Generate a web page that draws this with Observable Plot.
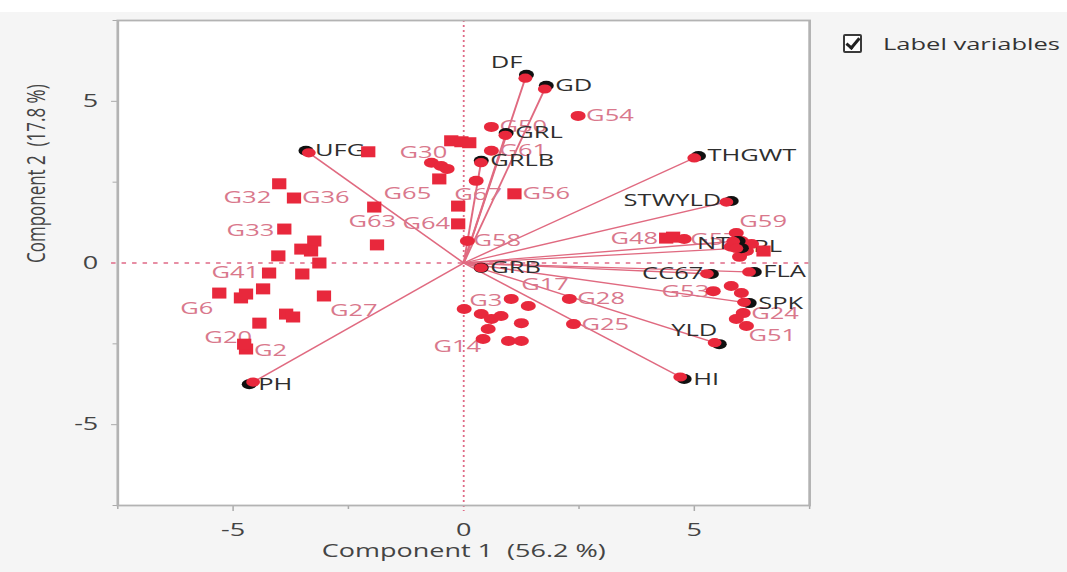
<!DOCTYPE html>
<html>
<head>
<meta charset="utf-8">
<script src="https://cdn.jsdelivr.net/npm/d3@7"></script>
<script src="https://cdn.jsdelivr.net/npm/@observablehq/plot@0.6"></script>
<style>
  html, body { margin: 0; padding: 0; background: #f5f5f5; }
  #wrap { position: relative; width: 1067px; height: 572px; overflow: hidden; font-family: "Open Sans", sans-serif; background: linear-gradient(#fff 0, #fff 12px, #f5f5f5 12px); }
  #chart { position: absolute; left: 0; top: 0; width: 711px; height: 572px; transform: scaleX(1.5007); transform-origin: 0 0; }
  #chart svg { display: block; }
  #legend { position: absolute; left: 843px; top: 32px; display: flex; align-items: center; }
  #legend .box { width: 15px; height: 15px; border: 2px solid #3a3a3a; border-radius: 2px; position: relative; margin-right: 21px; background: #fff; }
  #legend .box::after { content: ""; position: absolute; left: 4px; top: -1px; width: 5px; height: 11px; border-right: 3px solid #222; border-bottom: 3px solid #222; transform: rotate(40deg); }
  #legend .lbl { display: inline-block; font-size: 17px; color: #333; transform: scaleX(1.5); transform-origin: left center; white-space: nowrap; }
</style>
</head>
<body>
<div id="wrap">
  <div id="chart"></div>
  <div id="legend"><span class="box"></span><span class="lbl">Label variables</span></div>
</div>
<script>
// ---- Data: variable loadings (arrows) ----
const varNames = ["DF","GD","GRL","GRLB","UFG","PH","THGWT","STWYLD","NT","PL","FLA","CC67","SPK","YLD","HI","GRB"];
const varX = [1.36, 1.79, 0.92, 0.38, -3.42, -4.65, 5.09, 5.80, 5.95, 6.02, 6.30, 5.37, 6.19, 5.54, 4.78, 0.38];
const varY = [5.82, 5.48, 4.02, 3.16, 3.47, -3.75, 3.31, 1.92, 0.68, 0.46, -0.28, -0.34, -1.24, -2.51, -3.59, -0.15];

// ---- Data: genotype scores ----
const obsNames = ["G39","G32","G36","G63","G62","G65","G33","G34","G35","G37","G38","G40","G41","G42","G6","G7","G8","G9","G27","G21","G22","G23","G2","G20",
  "G30","G31","G29","G43","G44","G45","G46","G64","G67","G50","G61","G56","G54","G58",
  "G17","G3","G4","G5","G10","G11","G12","G13","G14","G15","G16","G28","G25",
  "G48","G49","G57","G59","G60","G47","G52","G55","G66","G1","G53","G18","G19","G24","G26","G51"];
const obsX = [-2.07,-4.00,-3.68,-1.94,-1.88,-0.53,-3.89,-3.24,-3.31,-3.13,-3.52,-4.02,-4.22,-3.50,-5.30,-4.83,-4.72,-4.35,-3.03,-3.85,-3.70,-4.43,-4.72,-4.76,
  -0.27,-0.05,0.12,-0.70,-0.49,-0.36,-0.12,-0.12,0.27,0.60,0.60,1.10,2.48,0.08,
  1.03,0.01,1.40,0.38,0.60,0.81,1.25,0.53,0.42,0.97,1.25,2.29,2.38,
  4.39,4.54,4.78,5.91,6.02,6.13,5.80,5.98,6.50,6.24,5.41,5.80,6.02,6.06,5.91,6.13];
const obsY = [3.44,2.45,2.01,1.73,0.56,2.60,1.05,0.68,0.37,0.00,0.43,0.22,-0.31,-0.34,-0.93,-1.08,-0.96,-0.80,-1.02,-1.58,-1.67,-1.86,-2.66,-2.51,
  3.78,3.75,3.72,3.10,3.00,2.91,1.76,1.21,2.54,4.21,3.47,2.14,4.55,0.68,
  -1.11,-1.42,-1.33,-1.58,-1.73,-1.64,-1.86,-2.04,-2.35,-2.41,-2.41,-1.11,-1.89,
  0.77,0.80,0.74,0.93,0.68,0.37,0.50,0.19,0.37,0.59,-0.87,-0.71,-0.93,-1.55,-1.73,-1.95];
const obsMarker = ["square","square","square","square","square","square","square","square","square","square","square","square","square","square","square","square","square","square","square","square","square","square","square","square",
  "square","square","square","circle","circle","circle","square","square","circle","circle","circle","square","circle","circle",
  "circle","circle","circle","circle","circle","circle","circle","circle","circle","circle","circle","circle","circle",
  "square","square","circle","circle","circle","circle","circle","circle","square","circle","circle","circle","circle","circle","circle","circle"];

// Axis labels / ticks
const xTitle = "Component 1  (56.2 %)";
const yTitle = "Component 2  (17.8 %)";
const majorTicks = [-5, 0, 5];
const minorTicks = [-7.5, -2.5, 2.5, 7.5];

// ---- label placement (style; offsets in on-screen pixels) ----
const obsLabelPlace = {
  G32:["end",-8,14], G36:["start",8,0], G63:["middle",-2,14], G65:["end",-8,15], G33:["end",-10,2],
  G41:["end",-10,0], G6:["end",-6,15], G27:["start",6,15], G20:["middle",-16,-7], G2:["start",8,2],
  G30:["end",-4,12], G64:["end",-8,0], G67:["middle",2,14], G50:["start",8,0], G61:["start",8,0],
  G56:["start",8,0], G54:["start",8,0], G58:["start",6,0], G17:["start",10,-14], G3:["start",5,-8],
  G14:["end",-2,8], G28:["start",8,0], G25:["start",8,0], G48:["end",-8,0], G57:["start",6,0],
  G59:["start",3,-11], G53:["end",-4,0], G24:["start",8,0], G51:["start",2,10]
};
const varLabelPlace = {
  DF:["end",-4,-12], GD:["start",9,0], GRL:["start",9,0], GRLB:["start",9,0], UFG:["start",9,0],
  PH:["start",9,0], THGWT:["start",9,0], STWYLD:["end",-10,0], NT:["end",-8,3], PL:["start",12,-2],
  FLA:["start",9,0], CC67:["end",-8,0], SPK:["start",9,0], YLD:["end",-2,-14], HI:["start",9,0], GRB:["start",9,0]
};

const vars = varNames.map((name, i) => ({name, x: varX[i], y: varY[i]}));
const obs = obsNames.map((name, i) => ({name, x: obsX[i], y: obsY[i], marker: obsMarker[i]}));

const SX = 1.5007; // horizontal stretch of the whole chart (reference is a stretched image)
function rectSym(w, h) { return {draw(ctx) { ctx.rect(-w / 2, -h / 2, w, h); }}; }

const RED = "#e8283c";
const PINK_TEXT = "#d9788c";
const ARROW = "#e06a80";
const REF = "#e06a86";
const hyphen = d => String(d);

const obsLabelMarks = obs.filter(d => obsLabelPlace[d.name]).map(d => {
  const [a, dx, dy] = obsLabelPlace[d.name];
  return Plot.text([d], {x: "x", y: "y", text: "name", textAnchor: a, dx: dx / SX, dy, fill: PINK_TEXT, fontSize: 17});
});
const varLabelMarks = vars.map(d => {
  const [a, dx, dy] = varLabelPlace[d.name];
  return Plot.text([d], {x: "x", y: "y", text: "name", textAnchor: a, dx: dx / SX, dy, fill: "#2e2e2e", fontSize: 17});
});

const svg = Plot.plot({
  width: 711,
  height: 572,
  marginLeft: 78,
  marginRight: 172,
  marginTop: 20,
  marginBottom: 67,
  style: {background: "transparent", fontFamily: "'Open Sans', sans-serif", overflow: "visible"},
  x: {domain: [-7.5, 7.5], label: null},
  y: {domain: [-7.5, 7.5], label: null},
  marks: [
    Plot.frame({fill: "white", stroke: null}),
    Plot.ruleX([0], {stroke: REF, strokeWidth: 1.2, strokeDasharray: "2,3", insetBottom: -6}),
    Plot.ruleY([0], {stroke: REF, strokeWidth: 1.6, strokeDasharray: "3,4", insetLeft: -4}),
    Plot.axisX(minorTicks, {tickSize: 4, tickFormat: () => "", color: "#aaa"}),
    Plot.axisY(minorTicks, {tickSize: 3, tickFormat: () => "", color: "#aaa"}),
    Plot.axisX([-5, 5], {tickSize: 6, tickFormat: () => "", color: "#aaa"}),
    Plot.axisY([-5, 5], {tickSize: 4, tickFormat: () => "", color: "#aaa"}),
    Plot.axisX(majorTicks, {tickSize: 0, tickPadding: 18, tickFormat: hyphen, color: "#444", fontSize: 18}),
    Plot.axisY(majorTicks, {tickSize: 0, tickPadding: 13, tickFormat: hyphen, color: "#444", fontSize: 18}),
    Plot.frame({stroke: "#b3b3b3", strokeWidth: 1.8}),
    Plot.text([xTitle], {frameAnchor: "bottom", dy: 51, fill: "#444", fontSize: 18}),
    Plot.text([yTitle], {frameAnchor: "left", dx: -54, rotate: -90, fill: "#444", fontSize: 17}),
    Plot.link(vars, {x1: () => 0, y1: () => 0, x2: "x", y2: "y", stroke: ARROW, strokeWidth: 1.3}),
    ...obsLabelMarks,
    ...varLabelMarks,
    Plot.dot(obs.filter(d => d.marker === "square"), {x: "x", y: "y", symbol: rectSym(9.5, 11), fill: RED, stroke: null}),
    Plot.dot(obs.filter(d => d.marker === "circle"), {x: "x", y: "y", r: 5, fill: RED, stroke: null}),
    Plot.dot(vars, {x: "x", y: "y", r: 5, fill: "#111", stroke: null}),
    Plot.dot(vars, {x: d => d.x * 0.982, y: d => d.y * 0.982, r: 4.6, fill: RED, stroke: null})
  ]
});

document.getElementById("chart").appendChild(svg);
</script>
</body>
</html>
